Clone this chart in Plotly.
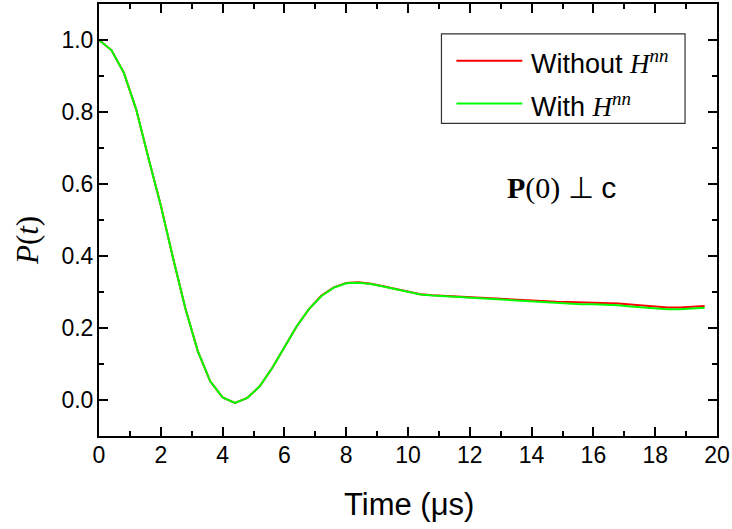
import plotly.graph_objects as go

# Time grid (microseconds)
time_us = [0.0, 0.4, 0.8, 1.2, 1.6, 2.0, 2.4, 2.8, 3.2, 3.6,
           4.0, 4.4, 4.8, 5.2, 5.6, 6.0, 6.4, 6.8, 7.2, 7.6,
           8.0, 8.4, 8.8, 9.2, 9.6, 10.0, 10.4, 10.8, 11.2, 11.6,
           12.0, 12.4, 12.8, 13.2, 13.6, 14.0, 14.4, 14.8, 15.2, 15.6,
           16.0, 16.4, 16.8, 17.2, 17.6, 18.0, 18.4, 18.8, 19.2, 19.6]

# Polarization without the nuclear-nuclear term
p_without = [1.000, 0.972, 0.910, 0.808, 0.672, 0.540, 0.393, 0.253, 0.135, 0.052,
             0.007, -0.008, 0.006, 0.038, 0.088, 0.148, 0.205, 0.253, 0.290, 0.313,
             0.325, 0.327, 0.323, 0.316, 0.308, 0.300, 0.294, 0.291, 0.289, 0.287,
             0.286, 0.284, 0.283, 0.281, 0.279, 0.277, 0.275, 0.273, 0.272, 0.271,
             0.271, 0.270, 0.268, 0.265, 0.262, 0.259, 0.257, 0.257, 0.258, 0.261]

# Polarization with the nuclear-nuclear term
p_with = [1.000, 0.972, 0.910, 0.808, 0.672, 0.540, 0.393, 0.253, 0.135, 0.052,
          0.007, -0.008, 0.006, 0.038, 0.088, 0.148, 0.205, 0.253, 0.289, 0.312,
          0.324, 0.326, 0.322, 0.315, 0.307, 0.299, 0.293, 0.290, 0.288, 0.286,
          0.285, 0.283, 0.281, 0.278, 0.276, 0.274, 0.271, 0.269, 0.267, 0.266,
          0.266, 0.265, 0.263, 0.260, 0.257, 0.254, 0.252, 0.252, 0.253, 0.256]

x_ticks = [0, 2, 4, 6, 8, 10, 12, 14, 16, 18, 20]
y_ticks = [0.0, 0.2, 0.4, 0.6, 0.8, 1.0]

SANS = "Liberation Sans, Arial, sans-serif"
SERIF = "Liberation Serif, Times New Roman, serif"
RED = "#ff0000"
GREEN = "#00ff00"

fig = go.Figure()
fig.add_trace(go.Scatter(x=time_us, y=p_without, mode="lines",
                         line=dict(color=RED, width=2), name="Without H<sup>nn</sup>",
                         showlegend=False))
fig.add_trace(go.Scatter(x=time_us, y=p_with, mode="lines",
                         line=dict(color=GREEN, width=2), name="With H<sup>nn</sup>",
                         showlegend=False))

axis_common = dict(
    showline=True, linecolor="black", linewidth=2, mirror="allticks",
    ticks="inside", ticklen=9, tickwidth=1.5, tickcolor="black",
    showgrid=False, zeroline=False,
    tickfont=dict(family=SANS, size=23, color="black"),
)

fig.update_xaxes(range=[0, 20], tickvals=x_ticks, ticktext=[str(v) for v in x_ticks],
                 minor=dict(ticks="inside", ticklen=5, tickwidth=1.5, tickcolor="black", dtick=1),
                 ticklabelstandoff=-3, **axis_common)
fig.update_yaxes(range=[-0.1, 1.1], tickvals=y_ticks, ticktext=[f"{v:.1f}" for v in y_ticks],
                 minor=dict(ticks="inside", ticklen=5, tickwidth=1.5, tickcolor="black", dtick=0.1,
                            tick0=0),
                 ticklabelstandoff=-1, **axis_common)

# Plot area in pixels: x 99..718, y 2..436
L, R, T, B = 99, 718, 2, 436
W, H = R - L, B - T


def px(x):
    return (x - L) / W


def py(y):
    return (B - y) / H


shapes = []
annotations = []

# Legend box and entries
shapes.append(dict(type="rect", xref="paper", yref="paper",
                   x0=px(442), x1=px(686), y0=py(122), y1=py(32),
                   line=dict(color="#333333", width=1.2), fillcolor="white", layer="above"))
legend_rows = [(59, RED, "Without "), (102, GREEN, "With ")]
for ypix, color, label in legend_rows:
    shapes.append(dict(type="line", xref="paper", yref="paper",
                       x0=px(457), x1=px(523), y0=py(ypix), y1=py(ypix),
                       line=dict(color=color, width=2), layer="above"))
    annotations.append(dict(
        xref="paper", yref="paper", x=px(530), y=py(ypix + 1),
        xanchor="left", yanchor="middle", showarrow=False,
        text=(f"{label}<span style='font-family:{SERIF}'><i>H</i>"
              f"<sup><i>nn</i></sup></span>"),
        font=dict(family=SANS, size=27, color="black")))

# Orientation label
annotations.append(dict(
    xref="paper", yref="paper", x=px(562), y=py(187),
    xanchor="center", yanchor="middle", showarrow=False,
    text=(f"<span style='font-family:{SERIF}'><b>P</b>(0) ⊥ </span>"
          f"<span style='font-family:{SANS}'>c</span>"),
    font=dict(family=SERIF, size=30, color="black")))

# Axis titles
annotations.append(dict(
    xref="paper", yref="paper", x=px(410), y=py(505),
    xanchor="center", yanchor="middle", showarrow=False,
    text="Time (μs)", font=dict(family=SANS, size=31, color="black")))
annotations.append(dict(
    xref="paper", yref="paper", x=px(28), y=py(240),
    xanchor="center", yanchor="middle", showarrow=False, textangle=-90,
    text="<i>P</i>(<i>t</i>)", font=dict(family=SERIF, size=31, color="black")))

fig.update_layout(
    width=732, height=529,
    margin=dict(l=L, r=732 - R, t=T, b=529 - B),
    paper_bgcolor="white", plot_bgcolor="white",
    showlegend=False,
    shapes=shapes, annotations=annotations,
)

fig.write_html("out.html")
